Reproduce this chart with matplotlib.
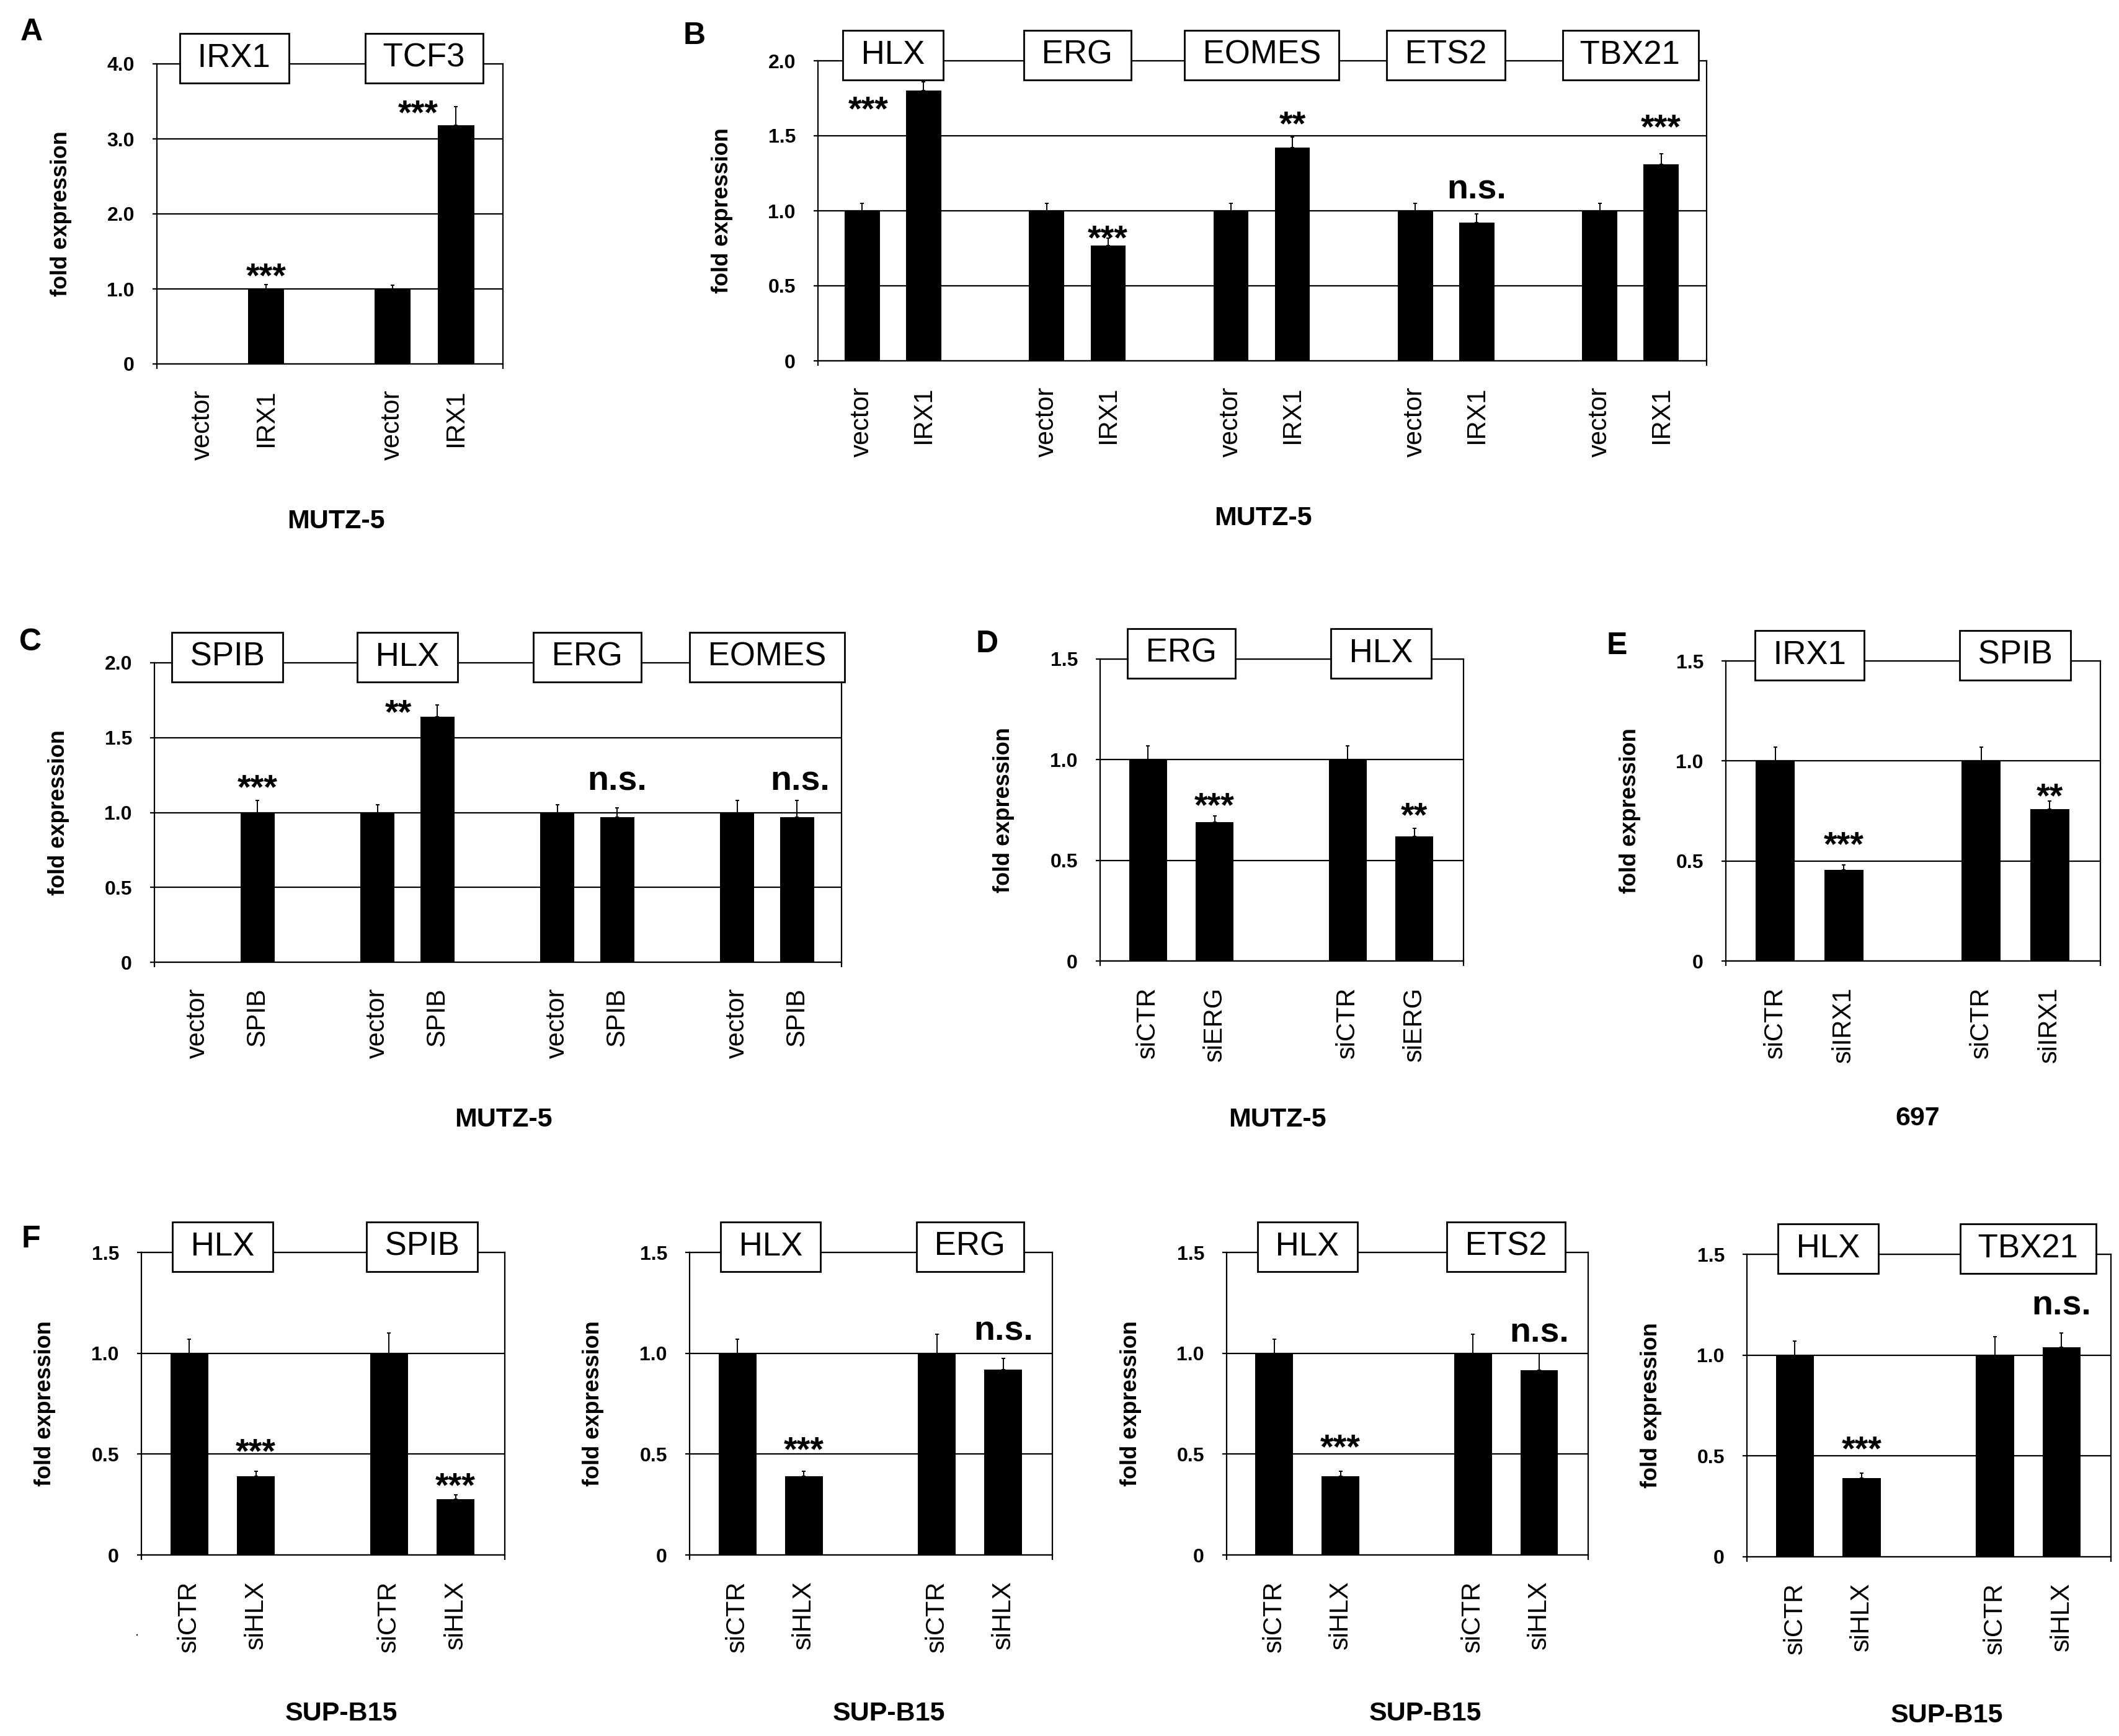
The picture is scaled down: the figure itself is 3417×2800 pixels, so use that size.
import numpy as np
import matplotlib
matplotlib.use("Agg")
import matplotlib.pyplot as plt
from matplotlib import font_manager

# ---- data ----
ticks_20 = [0, 0.5, 1.0, 1.5, 2.0]
ticks_20_lbl = ["0", "0.5", "1.0", "1.5", "2.0"]
ticks_15 = [0, 0.5, 1.0, 1.5]
ticks_15_lbl = ["0", "0.5", "1.0", "1.5"]

a_genes = ["IRX1", "TCF3"]
a_labels = ["vector", "IRX1", "vector", "IRX1"]
a_values = [np.nan, 1.00, 1.00, 3.18]
a_errors = [np.nan, 0.06, 0.05, 0.25]
a_marks = ["***", "***"]
a_mark_x = [1.0, 3.4]
a_mark_y = [1.30, 3.47]
a_ticks = [0, 1, 2, 3, 4]
a_ticks_lbl = ["0", "1.0", "2.0", "3.0", "4.0"]

b_genes = ["HLX", "ERG", "EOMES", "ETS2", "TBX21"]
b_labels = ["vector", "IRX1"] * 5
b_values = [1.00, 1.80, 1.00, 0.77, 1.00, 1.42, 1.00, 0.92, 1.00, 1.31]
b_errors = [0.05, 0.06, 0.05, 0.05, 0.05, 0.07, 0.05, 0.06, 0.05, 0.07]
b_marks = ["***", "***", "**", "n.s.", "***"]
b_mark_x = [0.1, 4.0, 7.0, 10.0, 13.0]
b_mark_y = [1.74, 0.88, 1.64, 1.14, 1.62]

c_genes = ["SPIB", "HLX", "ERG", "EOMES"]
c_labels = ["vector", "SPIB"] * 4
c_values = [np.nan, 1.00, 1.00, 1.64, 1.00, 0.97, 1.00, 0.97]
c_errors = [np.nan, 0.08, 0.05, 0.08, 0.05, 0.06, 0.08, 0.11]
c_marks = ["***", "**", "n.s.", "n.s."]
c_mark_x = [1.0, 3.35, 7.0, 10.05]
c_mark_y = [1.23, 1.73, 1.21, 1.21]

d_genes = ["ERG", "HLX"]
d_labels = ["siCTR", "siERG"] * 2
d_values = [1.00, 0.69, 1.00, 0.62]
d_errors = [0.07, 0.03, 0.07, 0.04]
d_marks = ["***", "**"]
d_mark_x = [1.0, 4.0]
d_mark_y = [0.82, 0.77]

e_genes = ["IRX1", "SPIB"]
e_labels = ["siCTR", "siIRX1"] * 2
e_values = [1.00, 0.455, 1.00, 0.76]
e_errors = [0.07, 0.025, 0.07, 0.04]
e_marks = ["***", "**"]
e_mark_x = [1.0, 4.0]
e_mark_y = [0.63, 0.87]

f_labels = ["siCTR", "siHLX"] * 2
f1_genes = ["HLX", "SPIB"]
f1_values = [1.00, 0.39, 1.00, 0.277]
f1_errors = [0.07, 0.025, 0.10, 0.02]
f1_marks = ["***", "***"]
f1_mark_y = [0.56, 0.39]
f2_genes = ["HLX", "ERG"]
f2_values = [1.00, 0.39, 1.00, 0.92]
f2_errors = [0.07, 0.025, 0.095, 0.055]
f2_marks = ["***", "n.s."]
f2_mark_y = [0.57, 1.11]
f3_genes = ["HLX", "ETS2"]
f3_values = [1.00, 0.39, 1.00, 0.915]
f3_errors = [0.07, 0.025, 0.095, 0.085]
f3_marks = ["***", "n.s."]
f3_mark_y = [0.58, 1.10]
f4_genes = ["HLX", "TBX21"]
f4_values = [1.00, 0.39, 1.00, 1.04]
f4_errors = [0.07, 0.025, 0.09, 0.07]
f4_marks = ["***", "n.s."]
f4_mark_y = [0.58, 1.245]
f_mark_x = [1.0, 4.0]

# ---- fonts ----
names = {f.name for f in font_manager.fontManager.ttflist}
plt.rcParams["font.family"] = "Liberation Sans"
if "Liberation Sans Narrow" in names:
    narrow = "Liberation Sans Narrow"
    fs_ytick, fs_ylab, fs_cell = 25, 32, 34
else:
    narrow = "Liberation Sans"
    fs_ytick, fs_ylab, fs_cell = 23, 26, 31

W, H = 3417, 2800
fig = plt.figure(figsize=(W / 100, H / 100), dpi=100)
LW = 1.6


def panel(rect, genes, labels, values, errors, marks, mark_x, mark_y,
          yticks, ylbls, cell, cell_x):
    l, r, t, b = rect
    ax = fig.add_axes([l / W, 1 - b / H, (r - l) / W, (b - t) / H])
    n = len(labels)
    pos = np.array([3 * (i // 2) + i % 2 for i in range(n)])
    vals = np.array(values, dtype=float)
    errs = np.array(errors, dtype=float)
    ax.bar(pos, vals, width=0.57, color="black", zorder=2)
    ax.errorbar(pos, vals, yerr=[np.zeros(n), errs], fmt="none",
                ecolor="black", elinewidth=1.4, capsize=2.5,
                capthick=1.4, zorder=3)
    xlo, xhi = -0.72, pos[-1] + 0.74
    ax.set_xlim(xlo, xhi)
    ax.set_ylim(0, yticks[-1])
    ax.set_yticks(yticks, ylbls, fontsize=fs_ytick, fontweight="bold",
                  family=narrow)
    ax.set_xticks(pos, labels, rotation=90, fontsize=30)
    ax.set_xticks([xlo, xhi], minor=True)
    ax.tick_params(axis="x", which="major", length=0, pad=30)
    ax.tick_params(axis="x", which="minor", length=6, width=LW)
    ax.tick_params(axis="y", length=5, width=LW, pad=21)
    ax.set_axisbelow(True)
    ax.yaxis.grid(True, color="black", lw=LW)
    for s in ax.spines.values():
        s.set_linewidth(LW)
    # gene name boxes on the top frame line
    for g, gname in enumerate(genes):
        xc = pos[2 * g:2 * g + 2].mean()
        ax.annotate(" " + gname + " ", xy=(xc, yticks[-1]), xycoords="data",
                    xytext=(0, 6.5), textcoords="offset points",
                    ha="center", va="center", fontsize=38,
                    bbox=dict(boxstyle="square,pad=0.28", fc="white",
                              ec="black", lw=2.0),
                    annotation_clip=False, zorder=5)
    # significance marks
    for m, mx, my in zip(marks, mark_x, mark_y):
        if "*" in m:
            fs, off = 40, 0.58 * 40
        else:
            fs, off = 40, 0.26 * 40
        ax.annotate(m, xy=(mx, my), xytext=(0, -off),
                    textcoords="offset points", ha="center", va="baseline",
                    fontsize=fs, fontweight="bold", zorder=6)
    fig.text((l - 155) / W, 1 - (t + b) / 2 / H, "fold expression",
             rotation=90, ha="center", va="center", fontsize=fs_ylab,
             fontweight="bold", family=narrow)
    ax.text(cell_x, -0.525, cell, transform=ax.transAxes, ha="center",
            va="center", fontsize=fs_cell, fontweight="bold", family=narrow)
    return ax


panel((253, 811, 103, 587), a_genes, a_labels, a_values, a_errors, a_marks,
      a_mark_x, a_mark_y, a_ticks, a_ticks_lbl, "MUTZ-5", 0.518)
panel((1319, 2752, 98, 582), b_genes, b_labels, b_values, b_errors, b_marks,
      b_mark_x, b_mark_y, ticks_20, ticks_20_lbl, "MUTZ-5", 0.501)
panel((249, 1357, 1069, 1552), c_genes, c_labels, c_values, c_errors,
      c_marks, c_mark_x, c_mark_y, ticks_20, ticks_20_lbl, "MUTZ-5", 0.508)
panel((1774, 2360, 1063, 1550), d_genes, d_labels, d_values, d_errors,
      d_marks, d_mark_x, d_mark_y, ticks_15, ticks_15_lbl, "MUTZ-5", 0.488)
panel((2783, 3387, 1066, 1550), e_genes, e_labels, e_values, e_errors,
      e_marks, e_mark_x, e_mark_y, ticks_15, ticks_15_lbl, "697", 0.512)
panel((228, 814, 2020, 2508), f1_genes, f_labels, f1_values, f1_errors,
      f1_marks, f_mark_x, f1_mark_y, ticks_15, ticks_15_lbl, "SUP-B15", 0.55)
panel((1112, 1697, 2020, 2508), f2_genes, f_labels, f2_values, f2_errors,
      f2_marks, f_mark_x, f2_mark_y, ticks_15, ticks_15_lbl, "SUP-B15", 0.55)
panel((1978, 2561, 2020, 2508), f3_genes, f_labels, f3_values, f3_errors,
      f3_marks, f_mark_x, f3_mark_y, ticks_15, ticks_15_lbl, "SUP-B15", 0.55)
panel((2817, 3404, 2023, 2511), f4_genes, f_labels, f4_values, f4_errors,
      f4_marks, f_mark_x, f4_mark_y, ticks_15, ticks_15_lbl, "SUP-B15", 0.55)

# panel letters
for letter, (x, y) in zip("ABCDEF", [(51, 52), (1120, 58), (49, 1036),
                                     (1592, 1039), (2607, 1042), (50, 1999)]):
    fig.text(x / W, 1 - y / H, letter, ha="center", va="center",
             fontsize=36, fontweight="bold")
fig.text(221 / W, 1 - 2633 / H, ".", ha="center", va="center", fontsize=16)

fig.savefig("out.png", dpi=100, facecolor="white")
